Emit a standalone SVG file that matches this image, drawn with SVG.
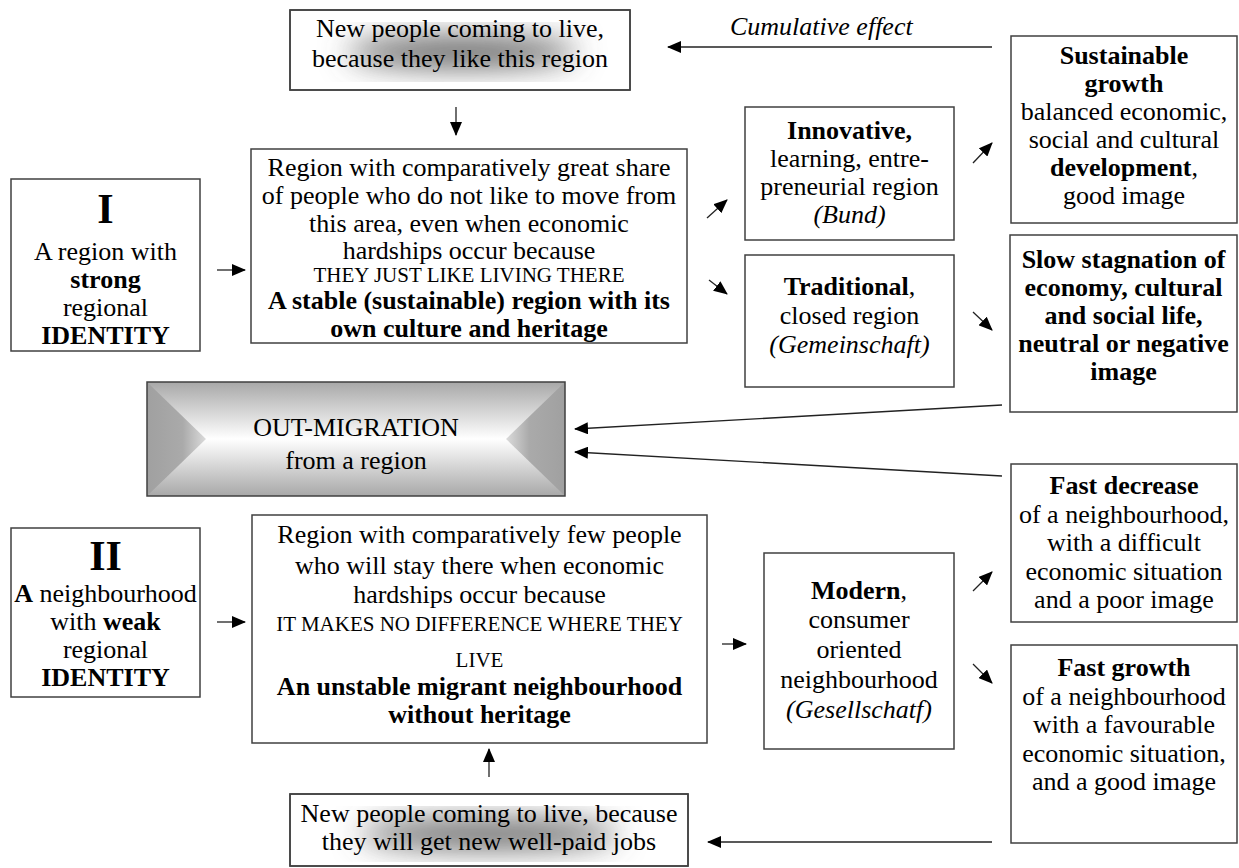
<svg xmlns="http://www.w3.org/2000/svg" width="1239" height="868" viewBox="0 0 1239 868">
<style>
.box{fill:#fff;stroke:#404040;stroke-width:1.5}
.frame{fill:none;stroke:#404040;stroke-width:1.5}
.t{font-family:'Liberation Serif',Tinos,'Times New Roman',Times,'DejaVu Serif','Noto Serif',serif;font-size:26px;fill:#000;text-anchor:middle}
.b{font-weight:bold}
.i{font-style:italic}
.caps{font-size:21px}
.big{font-size:42px;font-weight:bold}
.conn{stroke:#222;stroke-width:1.3;fill:none;marker-end:url(#ah)}
</style>
<defs>
<marker id="ah" markerUnits="userSpaceOnUse" markerWidth="14" markerHeight="12" viewBox="0 0 14 12" refX="13" refY="6" orient="auto">
<path d="M0,0 L14,6 L0,12 z" fill="#000"/>
</marker>
<filter id="blur" x="-50%" y="-50%" width="200%" height="200%"><feGaussianBlur stdDeviation="15"/></filter>
<clipPath id="clipTop"><rect x="290" y="10" width="340" height="80"/></clipPath>
<clipPath id="clipBot"><rect x="290" y="794" width="398" height="72"/></clipPath>
<linearGradient id="omV" x1="0" y1="382" x2="0" y2="496" gradientUnits="userSpaceOnUse">
<stop offset="0" stop-color="#a8a8a8"/><stop offset="0.5" stop-color="#ffffff"/><stop offset="1" stop-color="#a8a8a8"/>
</linearGradient>
<linearGradient id="omL" x1="147" y1="0" x2="212" y2="0" gradientUnits="userSpaceOnUse">
<stop offset="0" stop-color="#a0a0a0"/><stop offset="0.55" stop-color="#aaaaaa"/><stop offset="1" stop-color="#e8e8e8"/>
</linearGradient>
<linearGradient id="omR" x1="565" y1="0" x2="500" y2="0" gradientUnits="userSpaceOnUse">
<stop offset="0" stop-color="#a0a0a0"/><stop offset="0.55" stop-color="#aaaaaa"/><stop offset="1" stop-color="#e8e8e8"/>
</linearGradient>
</defs>

<g id="node-new-people-top">
<rect class="box" x="290" y="10" width="340" height="80"/>
<g clip-path="url(#clipTop)"><ellipse cx="462" cy="52" rx="115" ry="15" fill="#5e5e5e" filter="url(#blur)"/></g>
<rect class="frame" x="290" y="10" width="340" height="80"/>
<text class="t"><tspan x="460" y="37">New people coming to live,</tspan><tspan x="460" y="67">because they like this region</tspan></text>
</g>

<g id="node-cumulative-label">
<text class="t i" x="730" y="35" style="text-anchor:start">Cumulative effect</text>
</g>

<g id="node-identity-I">
<rect class="box" x="11" y="179" width="189" height="172"/>
<text class="t"><tspan class="big" x="105.5" y="223">I</tspan><tspan x="105.5" y="260">A region with</tspan><tspan class="b" x="105.5" y="288">strong</tspan><tspan x="105.5" y="316">regional</tspan><tspan class="b" x="105.5" y="344">IDENTITY</tspan></text>
</g>

<g id="node-stable-region">
<rect class="box" x="251" y="149" width="436" height="194"/>
<text class="t"><tspan x="469" y="176">Region with comparatively great share</tspan><tspan x="469" y="204">of people who do not like to move from</tspan><tspan x="469" y="232">this area, even when economic</tspan><tspan x="469" y="259">hardships occur because</tspan><tspan class="caps" x="469" y="282">THEY JUST LIKE LIVING THERE</tspan><tspan class="b" x="469" y="309">A stable (sustainable) region with its</tspan><tspan class="b" x="469" y="337">own culture and heritage</tspan></text>
</g>

<g id="node-innovative">
<rect class="box" x="745" y="107" width="209" height="133"/>
<text class="t"><tspan class="b" x="849.5" y="139">Innovative,</tspan><tspan x="849.5" y="167">learning, entre-</tspan><tspan x="849.5" y="195">preneurial region</tspan><tspan class="i" x="849.5" y="223">(Bund)</tspan></text>
</g>

<g id="node-traditional">
<rect class="box" x="745" y="255" width="209" height="132"/>
<text class="t"><tspan x="849.5" y="295"><tspan class="b">Traditional</tspan>,</tspan><tspan x="849.5" y="324">closed region</tspan><tspan class="i" x="849.5" y="353">(Gemeinschaft)</tspan></text>
</g>

<g id="node-sustainable">
<rect class="box" x="1011" y="36" width="226" height="187"/>
<text class="t"><tspan class="b" x="1124" y="64">Sustainable</tspan><tspan class="b" x="1124" y="92">growth</tspan><tspan x="1124" y="120">balanced economic,</tspan><tspan x="1124" y="148">social and cultural</tspan><tspan x="1124" y="176"><tspan class="b">development</tspan>,</tspan><tspan x="1124" y="204">good image</tspan></text>
</g>

<g id="node-stagnation">
<rect class="box" x="1010" y="235" width="227" height="177"/>
<text class="t b"><tspan x="1123.5" y="268">Slow stagnation of</tspan><tspan x="1123.5" y="296">economy, cultural</tspan><tspan x="1123.5" y="324">and social life,</tspan><tspan x="1123.5" y="352">neutral or negative</tspan><tspan x="1123.5" y="380">image</tspan></text>
</g>

<g id="node-out-migration">
<rect x="147" y="382" width="418" height="114" fill="url(#omV)"/>
<polygon points="147,382 206,439 147,496" fill="url(#omL)"/>
<polygon points="565,382 506,439 565,496" fill="url(#omR)"/>
<rect class="frame" x="147" y="382" width="418" height="114"/>
<text class="t"><tspan x="356" y="436">OUT-MIGRATION</tspan><tspan x="356" y="469">from a region</tspan></text>
</g>

<g id="node-fast-decrease">
<rect class="box" x="1011" y="464" width="226" height="158"/>
<text class="t"><tspan class="b" x="1124" y="494">Fast decrease</tspan><tspan x="1124" y="523">of a neighbourhood,</tspan><tspan x="1124" y="551">with a difficult</tspan><tspan x="1124" y="580">economic situation</tspan><tspan x="1124" y="608">and a poor image</tspan></text>
</g>

<g id="node-identity-II">
<rect class="box" x="11" y="528" width="189" height="169"/>
<text class="t"><tspan class="big" x="105.5" y="570">II</tspan><tspan x="105.5" y="602"><tspan class="b">A</tspan> neighbourhood</tspan><tspan x="105.5" y="630">with <tspan class="b">weak</tspan></tspan><tspan x="105.5" y="658">regional</tspan><tspan class="b" x="105.5" y="686">IDENTITY</tspan></text>
</g>

<g id="node-unstable-neighbourhood">
<rect class="box" x="252" y="515" width="455" height="228"/>
<text class="t"><tspan x="479.5" y="543">Region with comparatively few people</tspan><tspan x="479.5" y="574">who will stay there when economic</tspan><tspan x="479.5" y="603">hardships occur because</tspan><tspan class="caps" x="479.5" y="631">IT MAKES NO DIFFERENCE WHERE THEY</tspan><tspan class="caps" x="479.5" y="667">LIVE</tspan><tspan class="b" x="479.5" y="695">An unstable migrant neighbourhood</tspan><tspan class="b" x="479.5" y="723">without heritage</tspan></text>
</g>

<g id="node-modern">
<rect class="box" x="764" y="553" width="190" height="196"/>
<text class="t"><tspan x="859" y="599"><tspan class="b">Modern</tspan>,</tspan><tspan x="859" y="628">consumer</tspan><tspan x="859" y="658">oriented</tspan><tspan x="859" y="688">neighbourhood</tspan><tspan class="i" x="859" y="718">(Gesellschatf)</tspan></text>
</g>

<g id="node-fast-growth">
<rect class="box" x="1011" y="645" width="226" height="198"/>
<text class="t"><tspan class="b" x="1124" y="676">Fast growth</tspan><tspan x="1124" y="705">of a neighbourhood</tspan><tspan x="1124" y="733">with a favourable</tspan><tspan x="1124" y="762">economic situation,</tspan><tspan x="1124" y="790">and a good image</tspan></text>
</g>

<g id="node-new-people-bottom">
<rect class="box" x="290" y="794" width="398" height="72"/>
<g clip-path="url(#clipBot)"><ellipse cx="489" cy="834" rx="130" ry="14" fill="#5e5e5e" filter="url(#blur)"/></g>
<rect class="frame" x="290" y="794" width="398" height="72"/>
<text class="t"><tspan x="489" y="822">New people coming to live, because</tspan><tspan x="489" y="850">they will get new well-paid jobs</tspan></text>
</g>

<g id="connectors">
<line class="conn" x1="456" y1="107" x2="456" y2="135"/>
<line class="conn" x1="992" y1="47" x2="668" y2="47"/>
<line class="conn" x1="217" y1="270" x2="245" y2="270"/>
<line class="conn" x1="707" y1="218" x2="727" y2="200"/>
<line class="conn" x1="709" y1="280" x2="727" y2="294"/>
<line class="conn" x1="973" y1="163" x2="992" y2="143"/>
<line class="conn" x1="973" y1="312" x2="992" y2="330"/>
<line class="conn" x1="1002" y1="405" x2="575" y2="429"/>
<line class="conn" x1="1002" y1="476" x2="575" y2="452"/>
<line class="conn" x1="217" y1="622" x2="245" y2="622"/>
<line class="conn" x1="722" y1="644" x2="746" y2="644"/>
<line class="conn" x1="973" y1="591" x2="992" y2="572"/>
<line class="conn" x1="973" y1="664" x2="992" y2="683"/>
<line class="conn" x1="489" y1="777" x2="489" y2="749"/>
<line class="conn" x1="992" y1="842" x2="708" y2="842"/>
</g>
</svg>
